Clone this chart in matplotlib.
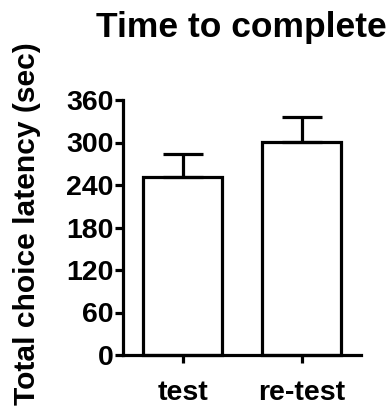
import matplotlib
matplotlib.use("Agg")
import matplotlib.pyplot as plt

categories = ["test", "re-test"]
means = [251, 301]
sem = [33, 35]
yticks = [0, 60, 120, 180, 240, 300, 360]

plt.rcParams['font.family'] = ['Liberation Sans', 'DejaVu Sans']
plt.rcParams['font.weight'] = 'bold'

W, H = 391, 408
fig = plt.figure(figsize=(W / 100, H / 100), dpi=100)
ax = fig.add_axes([123 / W, (H - 355) / H, (361 - 123) / W, (355 - 100) / H])

lw = 2.3
x = list(range(len(categories)))
ax.bar(x, means, width=0.67, color='white', edgecolor='black', linewidth=lw,
       zorder=2, clip_on=False)
ax.errorbar(x, means, yerr=[[0] * len(sem), sem], fmt='none', ecolor='black',
            elinewidth=lw, capsize=14.4, capthick=lw, zorder=3, clip_on=False)

ax.set_xlim(-0.5, 1.5)
ax.set_ylim(0, 360)
ax.set_yticks(yticks)
ax.set_yticklabels([str(v) for v in yticks])
ax.set_xticks(x)
ax.set_xticklabels(categories)

for s in ['top', 'right']:
    ax.spines[s].set_visible(False)
for s in ['left', 'bottom']:
    ax.spines[s].set_linewidth(lw)
ax.tick_params(axis='both', direction='out', length=5.8, width=lw, labelsize=20.5)
ax.tick_params(axis='y', pad=1)
ax.tick_params(axis='x', pad=12)
for lab in ax.get_xticklabels() + ax.get_yticklabels():
    lab.set_fontweight('bold')

fig.text(241 / W, (H - 37) / H, "Time to complete", ha='center', va='baseline',
         fontsize=25.5, fontweight='bold')
fig.text(27 / W, (H - 224) / H, "Total choice latency (sec)", rotation=90,
         ha='center', va='center', fontsize=21.6, fontweight='bold')

fig.savefig("out.png", dpi=100)
